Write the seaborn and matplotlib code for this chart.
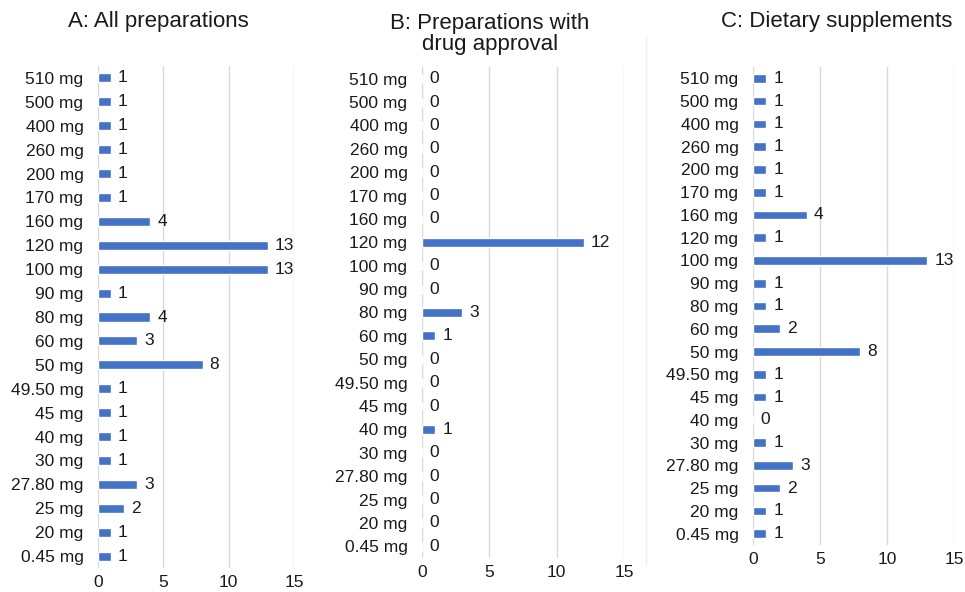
import matplotlib
matplotlib.use("Agg")
import matplotlib.pyplot as plt
from matplotlib.lines import Line2D
import seaborn as sns
import pandas as pd

sns.set_theme(style="white")
plt.rcParams["font.family"] = ["Liberation Sans", "DejaVu Sans"]

doses = ["510 mg", "500 mg", "400 mg", "260 mg", "200 mg", "170 mg", "160 mg",
         "120 mg", "100 mg", "90 mg", "80 mg", "60 mg", "50 mg", "49.50 mg",
         "45 mg", "40 mg", "30 mg", "27.80 mg", "25 mg", "20 mg", "0.45 mg"]

all_preparations = [1, 1, 1, 1, 1, 1, 4, 13, 13, 1, 4, 3, 8, 1, 1, 1, 1, 3, 2, 1, 1]
drug_approval = [0, 0, 0, 0, 0, 0, 0, 12, 0, 0, 3, 1, 0, 0, 0, 1, 0, 0, 0, 0, 0]
dietary_supplements = [1, 1, 1, 1, 1, 1, 4, 1, 13, 1, 1, 2, 8, 1, 1, 0, 1, 3, 2, 1, 1]

titles = ["A: All preparations", "B: Preparations with\ndrug approval", "C: Dietary supplements"]
x_ticks = [0, 5, 10, 15]

BAR_COLOR = "#4472C4"
GRID_COLOR = "#d9d9d9"
TEXT_COLOR = "#1a1a1a"
FS = 12.5

W, H = 965, 592
fig = plt.figure(figsize=(W / 100, H / 100), dpi=100)

# pixel boxes (left, right, top, bottom) for each panel's plot area
boxes = [(98, 294, 66, 568), (422, 624, 67, 558), (753, 954, 67, 545)]
title_pos = [(158, 22), (490, 34), (837, 22)]

for values, title, (l, r, t, b), (tx, ty) in zip(
        [all_preparations, drug_approval, dietary_supplements], titles, boxes, title_pos):
    ax = fig.add_axes([l / W, 1 - b / H, (r - l) / W, (b - t) / H])
    df = pd.DataFrame({"dose": doses, "count": values})
    sns.barplot(data=df, y="dose", x="count", orient="h", color=BAR_COLOR,
                width=0.38, saturation=1, ax=ax, order=doses)
    ax.set_xlim(0, 15)
    ax.set_ylim(len(doses) - 0.5, -0.5)
    ax.set_xticks(x_ticks)
    ax.xaxis.grid(True, color=GRID_COLOR, linewidth=1)
    ax.yaxis.grid(False)
    ax.set_axisbelow(True)
    for s in ax.spines.values():
        s.set_visible(False)
    ax.tick_params(axis="y", length=0, pad=10.5, labelsize=FS, labelcolor=TEXT_COLOR)
    ax.tick_params(axis="x", length=0, pad=5, labelsize=FS, labelcolor=TEXT_COLOR)
    ax.set_xlabel("")
    ax.set_ylabel("")
    for cont in ax.containers:
        ax.bar_label(cont, labels=[str(v) for v in values], padding=5,
                     fontsize=FS, color=TEXT_COLOR)
    fig.text(tx / W, 1 - ty / H, title, ha="center", va="center",
             fontsize=16, color=TEXT_COLOR, linespacing=1.05)

# faint frame edge on the left of the third panel
fig.add_artist(Line2D([646 / W, 646 / W], [1 - 565 / H, 1 - 36 / H],
                      color="#eeeeee", linewidth=1))

fig.savefig("out.png", dpi=100, facecolor="white")
